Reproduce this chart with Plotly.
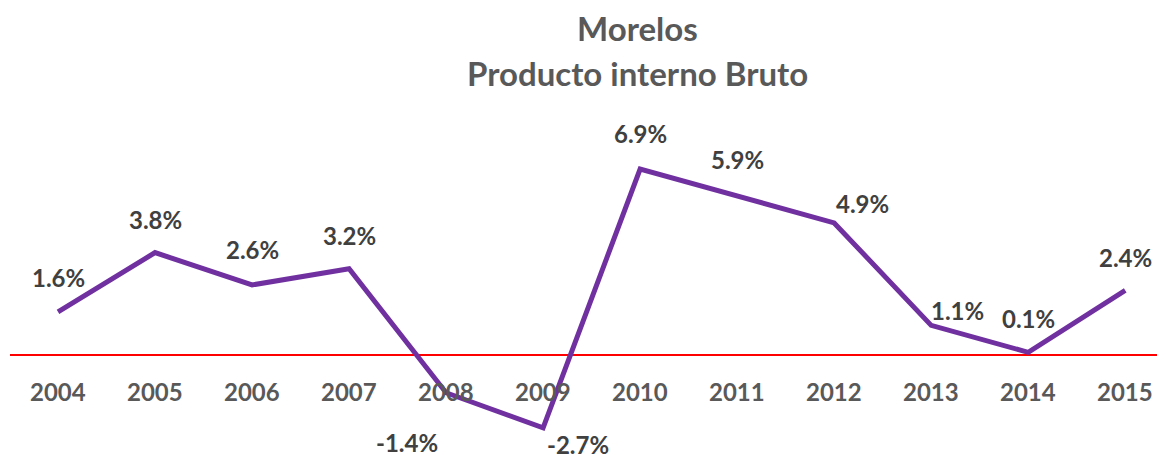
import plotly.graph_objects as go

years = ["2004", "2005", "2006", "2007", "2008", "2009", "2010", "2011", "2012", "2013", "2014", "2015"]
growth = [1.6, 3.8, 2.6, 3.2, -1.4, -2.7, 6.9, 5.9, 4.9, 1.1, 0.1, 2.4]
title_lines = ["Morelos", "Producto interno Bruto"]

# label offsets (px) relative to each point: (dx, dy) — styling only
label_offsets = {
    "2004": (0, -34), "2005": (0, -33), "2006": (0, -35), "2007": (0, -33),
    "2008": (-39, 50), "2009": (35, 17), "2010": (0, -36), "2011": (0, -36),
    "2012": (28, -19), "2013": (26, -15), "2014": (0, -34), "2015": (0, -33),
}

FONT = "Lato"
fig = go.Figure()
fig.add_trace(go.Scatter(
    x=list(range(len(years))), y=growth, mode="lines",
    line=dict(color="#7030A0", width=5), hoverinfo="skip", showlegend=False,
))

# zero line
fig.add_shape(type="line", xref="paper", yref="y", x0=0, x1=1, y0=0, y1=0,
              line=dict(color="#FF0000", width=2.2), layer="below")

annotations = []
for i, (yr, v) in enumerate(zip(years, growth)):
    dx, dy = label_offsets[yr]
    annotations.append(dict(
        x=i, y=v, xref="x", yref="y", text=f"{v:.1f}%", showarrow=False,
        xshift=dx, yshift=-dy, borderpad=0,
        font=dict(family=FONT, size=24, color="#404040", weight="bold"),
    ))
    annotations.append(dict(
        x=i, y=0, xref="x", yref="y", text=yr, showarrow=False,
        yshift=-36, font=dict(family=FONT, size=24, color="#595959", weight="bold"),
    ))

title_x = (637 - 10) / 1155
annotations.append(dict(x=title_x, y=1.2006, xref="paper", yref="paper", text=title_lines[0],
                        showarrow=False, xanchor="center", yanchor="middle",
                        font=dict(family=FONT, size=33, color="#595959", weight="bold")))
annotations.append(dict(x=title_x, y=1.075, xref="paper", yref="paper", text=title_lines[1],
                        showarrow=False, xanchor="center", yanchor="middle",
                        font=dict(family=FONT, size=33, color="#595959", weight="bold")))

# page body has an 8px margin, so the figure is 8px smaller and offset
fig.update_layout(
    width=1157, height=451,
    margin=dict(l=2, r=0, t=92, b=0),
    paper_bgcolor="white", plot_bgcolor="white",
    xaxis=dict(range=[-0.495, 11.41], visible=False, fixedrange=True),
    yaxis=dict(range=[-3.857, 9.46], visible=False, fixedrange=True),
    annotations=annotations,
    showlegend=False,
)

fig.write_html("out.html")
